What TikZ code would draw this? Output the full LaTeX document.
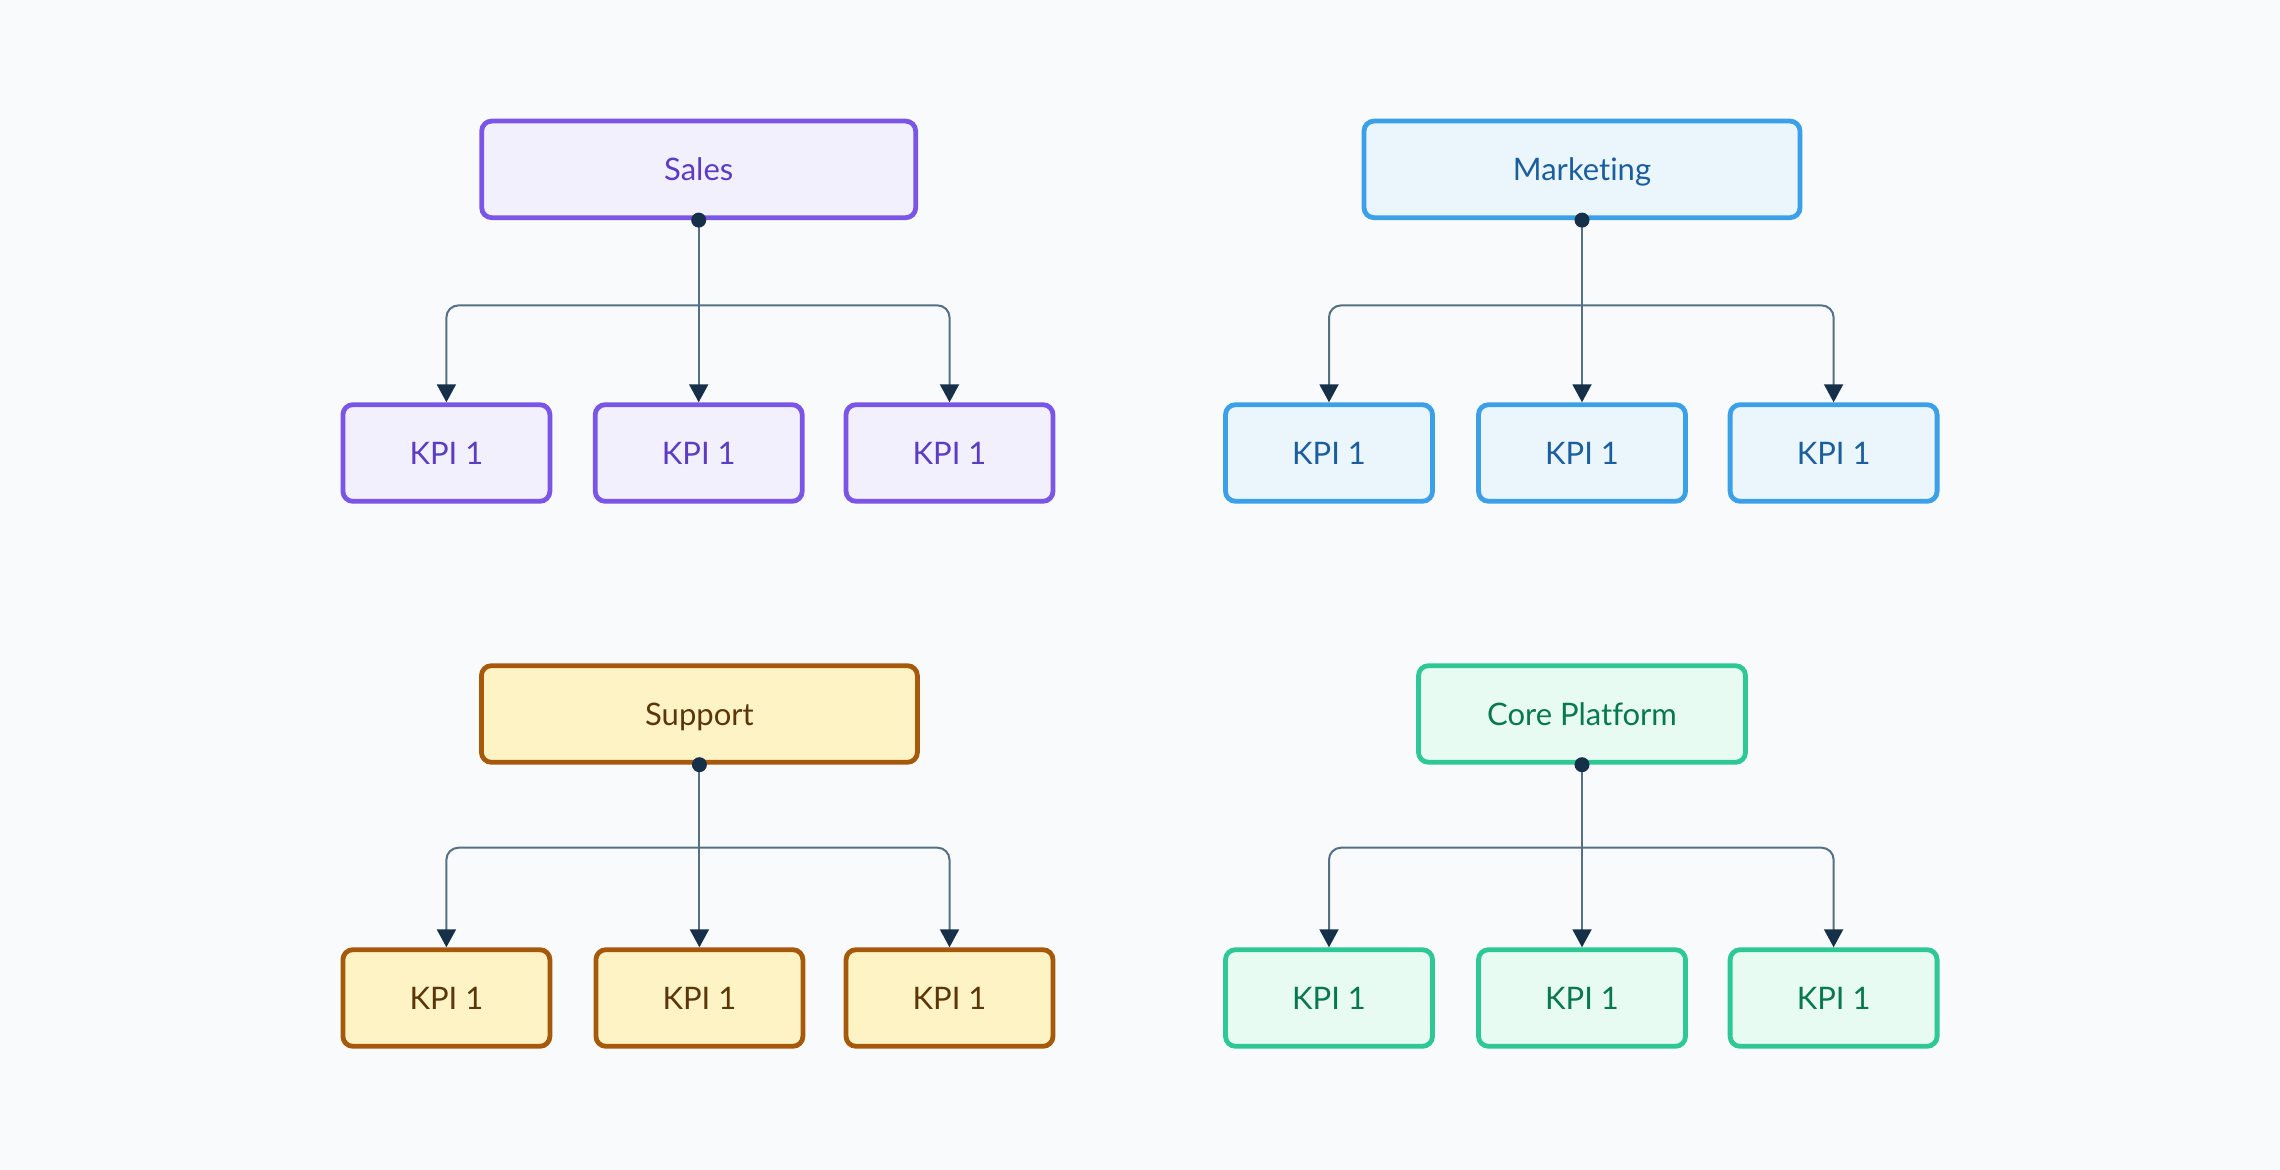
\documentclass[tikz,border=0pt]{standalone}
\usepackage{fontspec}
\setmainfont{Lato}[Ligatures=NoCommon]
\usetikzlibrary{arrows.meta}
\definecolor{bg}{HTML}{F8FAFC}
\definecolor{conn}{HTML}{557085}
\definecolor{tipc}{HTML}{17304A}
\definecolor{sB}{HTML}{7B55E6}\definecolor{sF}{HTML}{F3F0FE}\definecolor{sT}{HTML}{5B3CC4}
\definecolor{mB}{HTML}{3BA0E8}\definecolor{mF}{HTML}{EBF6FC}\definecolor{mT}{HTML}{1B5E9E}
\definecolor{uB}{HTML}{A6590B}\definecolor{uF}{HTML}{FEF3C4}\definecolor{uT}{HTML}{5A3608}
\definecolor{cB}{HTML}{2EC796}\definecolor{cF}{HTML}{E7FBF3}\definecolor{cT}{HTML}{087853}
\tikzset{
  box/.style={draw, rounded corners=5pt, line width=2.4pt, font=\fontsize{15.5}{18}\selectfont, align=center, inner sep=0pt, text height=11.2pt, text depth=0pt},
  parent/.style={box, minimum height=48.3pt},
  kpi/.style={box, minimum width=103.5pt, minimum height=48.3pt},
  sales/.style={fill=sF, draw=sB, text=sT},
  mkt/.style={fill=mF, draw=mB, text=mT},
  sup/.style={fill=uF, draw=uB, text=uT},
  core/.style={fill=cF, draw=cB, text=cT},
  link/.style={draw=conn, line width=1pt, rounded corners=6pt, -{Triangle[width=9.5pt,length=9pt,color=tipc]}},
  dotc/.style={circle, fill=tipc, inner sep=0pt, minimum size=7.5pt},
}
\begin{document}
\begin{tikzpicture}[x=0.5pt,y=-0.5pt]
\useasboundingbox[fill=bg] (0,0) rectangle (2280,1170);
% Sales
\node[parent, sales, minimum width=217pt] (s) at (698.7,169.4) {Sales};
\node[kpi, sales] (s1) at (446.4,453) {KPI 1};
\node[kpi, sales] (s2) at (698.7,453) {KPI 1};
\node[kpi, sales] (s3) at (949.5,453) {KPI 1};
\coordinate (sb) at (698.7,305.4);
% Marketing
\node[parent, mkt, minimum width=218pt] (m) at (1582,169.4) {Marketing};
\node[kpi, mkt] (m1) at (1329,453) {KPI 1};
\node[kpi, mkt] (m2) at (1582,453) {KPI 1};
\node[kpi, mkt] (m3) at (1833.6,453) {KPI 1};
\coordinate (mb) at (1582,305.4);
% Support
\node[parent, sup, minimum width=218pt] (u) at (699.4,714) {Support};
\node[kpi, sup] (u1) at (446.4,998) {KPI 1};
\node[kpi, sup] (u2) at (699.4,998) {KPI 1};
\node[kpi, sup] (u3) at (949.5,998) {KPI 1};
\coordinate (ub) at (699.4,847.7);
% Core Platform
\node[parent, core, minimum width=163.5pt] (c) at (1582,714) {Core Platform};
\node[kpi, core] (c1) at (1329,998) {KPI 1};
\node[kpi, core] (c2) at (1582,998) {KPI 1};
\node[kpi, core] (c3) at (1833.6,998) {KPI 1};
\coordinate (cb) at (1582,847.7);
% connectors
\foreach \p in {s,m,u,c}{
  \draw[link] (\p b) -- (\p1.north |- \p b) -- (\p1.north);
  \draw[link] (\p b) -- (\p3.north |- \p b) -- (\p3.north);
  \draw[link] (\p.south) -- (\p2.north);
  \node[dotc] (\p d) at (\p.south) {};
}
\end{tikzpicture}
\end{document}
